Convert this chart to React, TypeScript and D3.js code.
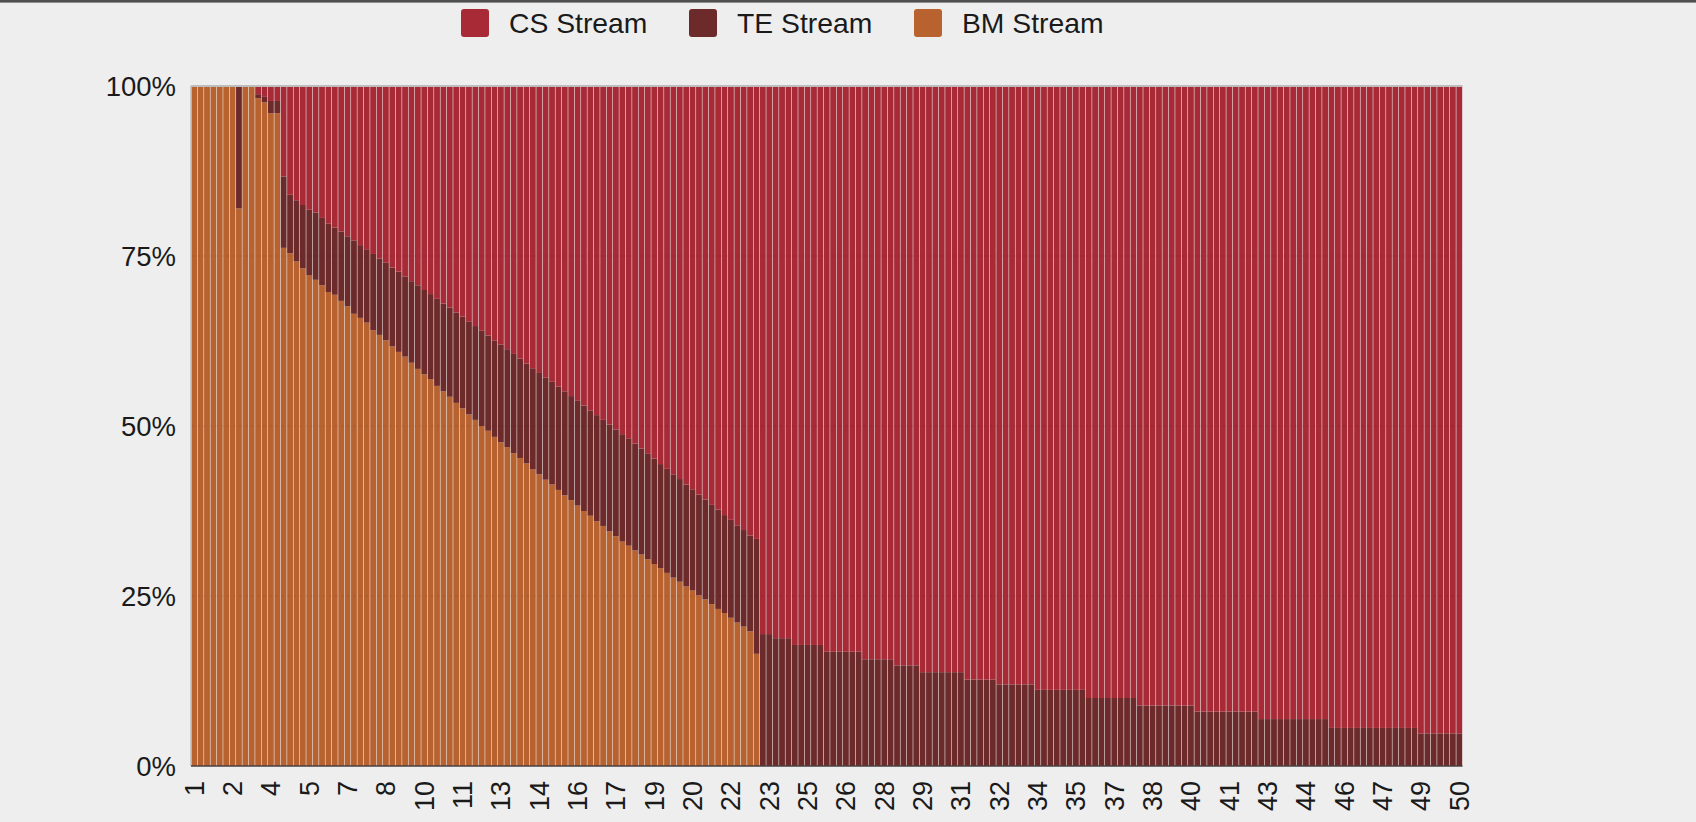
import React from 'react';
import * as d3 from 'd3';

// ---- Data (percent share of each stream per sample) ----
const seriesKeys = ['bm', 'te', 'cs'];
const legendKeys = ['cs', 'te', 'bm'];
const seriesNames: Record<string, string> = { cs: 'CS Stream', te: 'TE Stream', bm: 'BM Stream' };
const seriesColors: Record<string, string> = { cs: '#a72a36', te: '#6d2a2b', bm: '#b8622f' };

const bmValues = [
  100, 100, 100, 100, 100, 100, 100, 82, 100, 100,
  98.2, 97.6, 96.0, 96.0, 76.2, 75.4, 74.2, 73.2, 72.2, 71.5,
  70.7, 69.7, 69.3, 68.4, 67.6, 66.5, 65.9, 65.2, 64.1, 63.4,
  62.6, 61.7, 60.9, 60.2, 59.3, 58.4, 57.6, 56.9, 55.9, 55.1,
  54.3, 53.4, 52.6, 51.7, 50.9, 50.0, 49.3, 48.4, 47.6, 46.9,
  46.0, 45.3, 44.5, 43.6, 42.9, 42.1, 41.4, 40.6, 39.8, 39.1,
  38.3, 37.5, 36.8, 36.0, 35.3, 34.5, 33.8, 33.0, 32.4, 31.7,
  31.1, 30.4, 29.7, 29.1, 28.4, 27.7, 27.1, 26.4, 25.8, 25.1,
  24.5, 23.8, 23.1, 22.5, 21.8, 21.1, 20.5, 19.8, 16.5, 0,
  0, 0, 0, 0, 0, 0, 0, 0, 0, 0,
  0, 0, 0, 0, 0, 0, 0, 0, 0, 0,
  0, 0, 0, 0, 0, 0, 0, 0, 0, 0,
  0, 0, 0, 0, 0, 0, 0, 0, 0, 0,
  0, 0, 0, 0, 0, 0, 0, 0, 0, 0,
  0, 0, 0, 0, 0, 0, 0, 0, 0, 0,
  0, 0, 0, 0, 0, 0, 0, 0, 0, 0,
  0, 0, 0, 0, 0, 0, 0, 0, 0, 0,
  0, 0, 0, 0, 0, 0, 0, 0, 0, 0,
  0, 0, 0, 0, 0, 0, 0, 0, 0, 0,
  0, 0, 0, 0, 0, 0, 0, 0, 0,
];

const teValues = [
  0, 0, 0, 0, 0, 0, 0, 18, 0, 0,
  0.6, 0.8, 1.8, 1.8, 10.5, 8.6, 9.0, 9.3, 9.6, 9.9,
  9.9, 10.1, 9.9, 10.2, 10.3, 10.8, 10.7, 10.8, 11.2, 11.2,
  11.4, 11.6, 11.8, 11.8, 12.0, 12.3, 12.4, 12.5, 12.8, 12.9,
  13.1, 13.3, 13.5, 13.7, 13.8, 14.0, 14.0, 14.2, 14.4, 14.4,
  14.6, 14.6, 14.7, 14.9, 14.9, 15.0, 15.1, 15.2, 15.3, 15.3,
  15.4, 15.5, 15.5, 15.6, 15.6, 15.7, 15.7, 15.8, 15.8, 15.7,
  15.6, 15.5, 15.5, 15.3, 15.3, 15.2, 15.1, 15.0, 14.9, 14.8,
  14.7, 14.6, 14.6, 14.4, 14.4, 14.3, 14.2, 14.1, 16.9, 19.4,
  19.4, 18.8, 18.8, 18.8, 17.8, 17.8, 17.8, 17.8, 17.8, 16.8,
  16.8, 16.8, 16.8, 16.8, 16.8, 15.7, 15.7, 15.7, 15.7, 15.7,
  14.8, 14.8, 14.8, 14.8, 13.8, 13.8, 13.8, 13.8, 13.8, 13.8,
  13.8, 12.7, 12.7, 12.7, 12.7, 12.7, 12.0, 12.0, 12.0, 12.0,
  12.0, 12.0, 11.2, 11.2, 11.2, 11.2, 11.2, 11.2, 11.2, 11.2,
  10.0, 10.0, 10.0, 10.0, 10.0, 10.0, 10.0, 10.0, 8.9, 8.9,
  8.9, 8.9, 8.9, 8.9, 8.9, 8.9, 8.9, 8.0, 8.0, 8.0,
  8.0, 8.0, 8.0, 8.0, 8.0, 8.0, 8.0, 6.9, 6.9, 6.9,
  6.9, 6.9, 6.9, 6.9, 6.9, 6.9, 6.9, 6.9, 5.6, 5.6,
  5.6, 5.6, 5.6, 5.6, 5.6, 5.6, 5.6, 5.6, 5.6, 5.6,
  5.6, 5.6, 4.8, 4.8, 4.8, 4.8, 4.8, 4.8, 4.8,
];

const csValues = [
  0, 0, 0, 0, 0, 0, 0, 0, 0, 0,
  1.2, 1.6, 2.2, 2.2, 13.3, 16.0, 16.8, 17.5, 18.2, 18.6,
  19.4, 20.2, 20.8, 21.4, 22.1, 22.7, 23.4, 24.0, 24.7, 25.4,
  26.0, 26.7, 27.3, 28.0, 28.7, 29.3, 30.0, 30.6, 31.3, 32.0,
  32.6, 33.3, 33.9, 34.6, 35.3, 36.0, 36.7, 37.4, 38.0, 38.7,
  39.4, 40.1, 40.8, 41.5, 42.2, 42.9, 43.5, 44.2, 44.9, 45.6,
  46.3, 47.0, 47.7, 48.4, 49.1, 49.8, 50.5, 51.2, 51.8, 52.6,
  53.3, 54.1, 54.8, 55.6, 56.3, 57.1, 57.8, 58.6, 59.3, 60.1,
  60.8, 61.6, 62.3, 63.1, 63.8, 64.6, 65.3, 66.1, 66.6, 80.6,
  80.6, 81.2, 81.2, 81.2, 82.2, 82.2, 82.2, 82.2, 82.2, 83.2,
  83.2, 83.2, 83.2, 83.2, 83.2, 84.3, 84.3, 84.3, 84.3, 84.3,
  85.2, 85.2, 85.2, 85.2, 86.2, 86.2, 86.2, 86.2, 86.2, 86.2,
  86.2, 87.3, 87.3, 87.3, 87.3, 87.3, 88.0, 88.0, 88.0, 88.0,
  88.0, 88.0, 88.8, 88.8, 88.8, 88.8, 88.8, 88.8, 88.8, 88.8,
  90.0, 90.0, 90.0, 90.0, 90.0, 90.0, 90.0, 90.0, 91.1, 91.1,
  91.1, 91.1, 91.1, 91.1, 91.1, 91.1, 91.1, 92.0, 92.0, 92.0,
  92.0, 92.0, 92.0, 92.0, 92.0, 92.0, 92.0, 93.1, 93.1, 93.1,
  93.1, 93.1, 93.1, 93.1, 93.1, 93.1, 93.1, 93.1, 94.4, 94.4,
  94.4, 94.4, 94.4, 94.4, 94.4, 94.4, 94.4, 94.4, 94.4, 94.4,
  94.4, 94.4, 95.2, 95.2, 95.2, 95.2, 95.2, 95.2, 95.2,
];

const xTickLabels = [
  '1', '2', '4', '5', '7', '8', '10', '11', '13', '14', '16', '17', '19', '20', '22', '23', '25',
  '26', '28', '29', '31', '32', '34', '35', '37', '38', '40', '41', '43', '44', '46', '47', '49', '50',
];
const xTickEvery = 6;
const yTickValues = [0, 0.25, 0.5, 0.75, 1];

const FONT = '"Liberation Sans", Arial, Helvetica, sans-serif';

export default function App() {
  const W = 1696;
  const H = 822;
  const plotLeft = 191;
  const plotRight = 1462.5;
  const plotTop = 86;
  const plotBottom = 766;

  const rows = bmValues.map((_, i) => ({
    idx: String(i),
    bm: bmValues[i],
    te: teValues[i],
    cs: csValues[i],
  }));

  const layers = d3
    .stack<any>()
    .keys(seriesKeys)
    .offset(d3.stackOffsetExpand)(rows);

  const x = d3
    .scaleBand<string>()
    .domain(rows.map((r) => r.idx))
    .range([plotLeft, plotRight])
    .paddingInner(0.09)
    .paddingOuter(0.05);

  const y = d3.scaleLinear().domain([0, 1]).range([plotBottom, plotTop]);

  const legendX = [461, 689, 914];

  return (
    <div style={{ position: 'fixed', left: 0, top: 0, width: W, height: H, background: '#eeeeee' }}>
      <svg width={W} height={H} style={{ display: 'block' }}>
        <rect x={0} y={0} width={W} height={H} fill="#eeeeee" />
        <rect x={0} y={0} width={W} height={2.6} fill="#4f4f4f" />

        {/* legend */}
        {legendKeys.map((k, i) => (
          <g key={k} transform={`translate(${legendX[i]},0)`}>
            <rect x={0} y={9} width={28} height={28} rx={3} fill={seriesColors[k]} />
            <text x={48} y={23} dy="0.35em" fontFamily={FONT} fontSize={28.3} fill="#1a1a1a">
              {seriesNames[k]}
            </text>
          </g>
        ))}

        {/* bars */}
        {layers.map((layer) => (
          <g key={layer.key} fill={seriesColors[layer.key]}>
            {layer.map((d) => {
              const h = y(d[0]) - y(d[1]);
              if (h <= 0) return null;
              return (
                <rect
                  key={d.data.idx}
                  x={x(d.data.idx)}
                  y={y(d[1])}
                  width={x.bandwidth()}
                  height={h}
                />
              );
            })}
          </g>
        ))}

        {/* faint gridlines over bars */}
        {yTickValues
          .filter((v) => v > 0 && v < 1)
          .map((v) => (
            <line
              key={v}
              x1={plotLeft}
              x2={plotRight}
              y1={y(v)}
              y2={y(v)}
              stroke="#000"
              strokeOpacity={0.08}
              strokeDasharray="3,3"
            />
          ))}

        {/* frame */}
        <line x1={plotLeft} x2={plotRight} y1={y(1)} y2={y(1)} stroke="#bdbdbd" strokeWidth={2} />
        <line x1={plotLeft} x2={plotLeft} y1={y(1)} y2={y(0)} stroke="#bdbdbd" strokeWidth={1.5} />
        <line x1={plotLeft} x2={plotRight} y1={y(0)} y2={y(0)} stroke="#4a4040" strokeWidth={1.5} />

        {/* y axis labels */}
        {yTickValues.map((v) => (
          <text
            key={v}
            x={176}
            y={y(v)}
            dy="0.35em"
            textAnchor="end"
            fontFamily={FONT}
            fontSize={27.5}
            fill="#1a1a1a"
          >
            {d3.format('.0%')(v)}
          </text>
        ))}

        {/* x axis labels */}
        {xTickLabels.map((lab, k) => {
          const key = String(k * xTickEvery);
          const cx = (x(key) as number) + x.bandwidth() / 2;
          return (
            <text
              key={lab}
              transform={`translate(${cx},781) rotate(-90)`}
              dy="0.35em"
              textAnchor="end"
              fontFamily={FONT}
              fontSize={27}
              fill="#1a1a1a"
            >
              {lab}
            </text>
          );
        })}
      </svg>
    </div>
  );
}
